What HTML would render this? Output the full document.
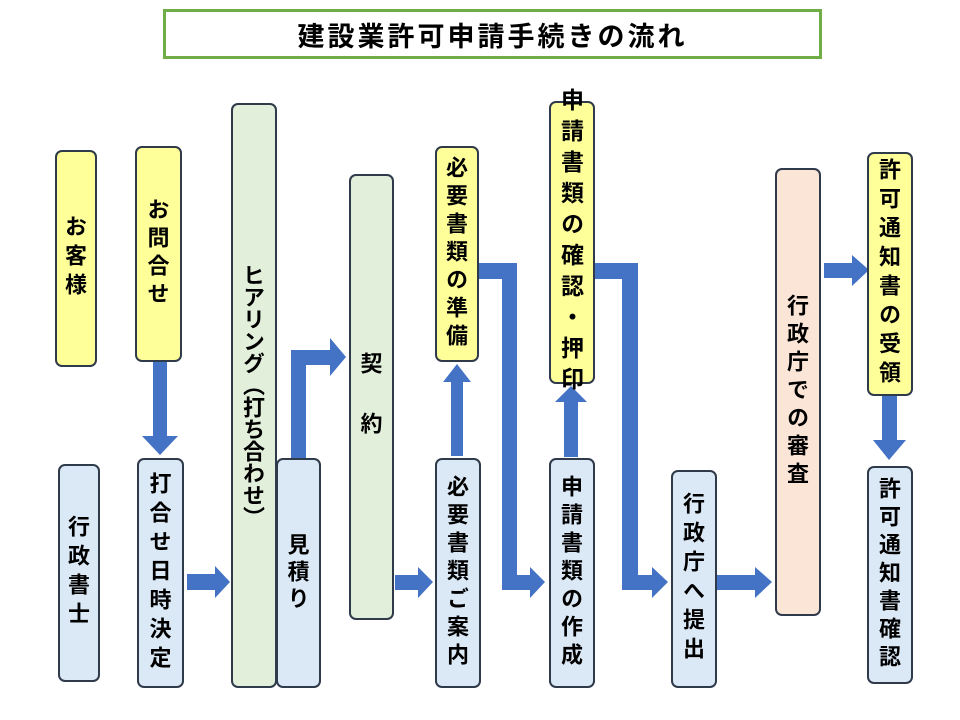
<!DOCTYPE html>
<html><head><meta charset="utf-8"><style>
html,body{margin:0;padding:0;background:#fff;}
body{width:960px;height:720px;position:relative;overflow:hidden;font-family:"Liberation Sans","Noto Sans CJK JP",sans-serif;}
.t{position:absolute;left:163px;top:9px;width:653px;height:44px;border:3px solid #70ad47;display:flex;align-items:center;justify-content:center;font-weight:bold;font-size:27px;letter-spacing:3px;color:#000;}
.b{position:absolute;box-sizing:border-box;border:2px solid #2f3a4a;border-radius:7px;display:flex;align-items:center;justify-content:center;overflow:visible;}
.b span{writing-mode:vertical-rl;text-orientation:upright;white-space:nowrap;font-weight:bold;font-size:22px;line-height:1;color:#000;font-family:"Noto Sans CJK JP",sans-serif;}
.y{background:#ffff99}.u{background:#dbe8f6}.g{background:#e2efda}.p{background:#fbe5d6}
svg{position:absolute;left:0;top:0;}
</style></head><body>
<div class="t">建設業許可申請手続きの流れ</div>
<svg width="960" height="720">
<g fill="#4472c4">
<polygon points="153,362 167,362 167,436 178,436 160,455 142,436 153,436"/>
<polygon points="187,574 215,574 215,566 230,582 215,598 215,590 187,590"/>
<polygon points="291,458 291,350 330,350 330,338 346,357 330,376 330,365 306,365 306,458"/>
<polygon points="395,575 418,575 418,567 433,582 418,598 418,590 395,590"/>
<polygon points="451,456 451,382 443,382 457,364 471,382 463,382 463,456"/>
<polygon points="478,263 517,263 517,575 530,575 530,567 545,582 530,598 530,590 502,590 502,279 478,279"/>
<polygon points="564,457 564,402 555,402 571,386 587,402 578,402 578,457"/>
<polygon points="594,263 638,263 638,575 652,575 652,567 668,582 652,598 652,590 622,590 622,279 594,279"/>
<polygon points="716,575 755,575 755,567 772,582 755,598 755,590 716,590"/>
<polygon points="824,263 852,263 852,255 869,270 852,286 852,278 824,278"/>
<polygon points="882,396 897,396 897,440 906,440 889,460 873,440 882,440"/>
</g></svg>
<div class="b y" style="left:55px;top:150px;width:42px;height:217px"><span style="letter-spacing:7px">お客様</span></div>
<div class="b y" style="left:135px;top:146px;width:47px;height:216px"><span style="letter-spacing:6px">お問合せ</span></div>
<div class="b u" style="left:58px;top:464px;width:42px;height:218px"><span style="letter-spacing:7px">行政書士</span></div>
<div class="b u" style="left:137px;top:458px;width:47px;height:230px"><span style="letter-spacing:7px">打合せ日時決定</span></div>
<div class="b g" style="left:231px;top:103px;width:46px;height:585px"><span style="letter-spacing:0px">ヒアリング（打ち合わせ）</span></div>
<div class="b u" style="left:276px;top:458px;width:45px;height:230px"><span style="letter-spacing:5px">見積り</span></div>
<div class="b g" style="left:349px;top:174px;width:45px;height:446px"><span style="letter-spacing:8px">契　約</span></div>
<div class="b y" style="left:435px;top:146px;width:44px;height:216px"><span style="letter-spacing:6px">必要書類の準備</span></div>
<div class="b u" style="left:435px;top:458px;width:46px;height:230px"><span style="letter-spacing:6px">必要書類ご案内</span></div>
<div class="b y" style="left:549px;top:101px;width:46px;height:283px"><span style="letter-spacing:8px;font-size:23px">申請書類の確認・押印</span></div>
<div class="b u" style="left:549px;top:458px;width:46px;height:230px"><span style="letter-spacing:6px">申請書類の作成</span></div>
<div class="b u" style="left:671px;top:470px;width:46px;height:218px"><span style="letter-spacing:7px">行政庁へ提出</span></div>
<div class="b p" style="left:775px;top:168px;width:46px;height:448px"><span style="letter-spacing:6px">行政庁での審査</span></div>
<div class="b y" style="left:867px;top:152px;width:46px;height:244px"><span style="letter-spacing:7px">許可通知書の受領</span></div>
<div class="b u" style="left:867px;top:466px;width:46px;height:218px"><span style="letter-spacing:6px">許可通知書確認</span></div>
</body></html>
